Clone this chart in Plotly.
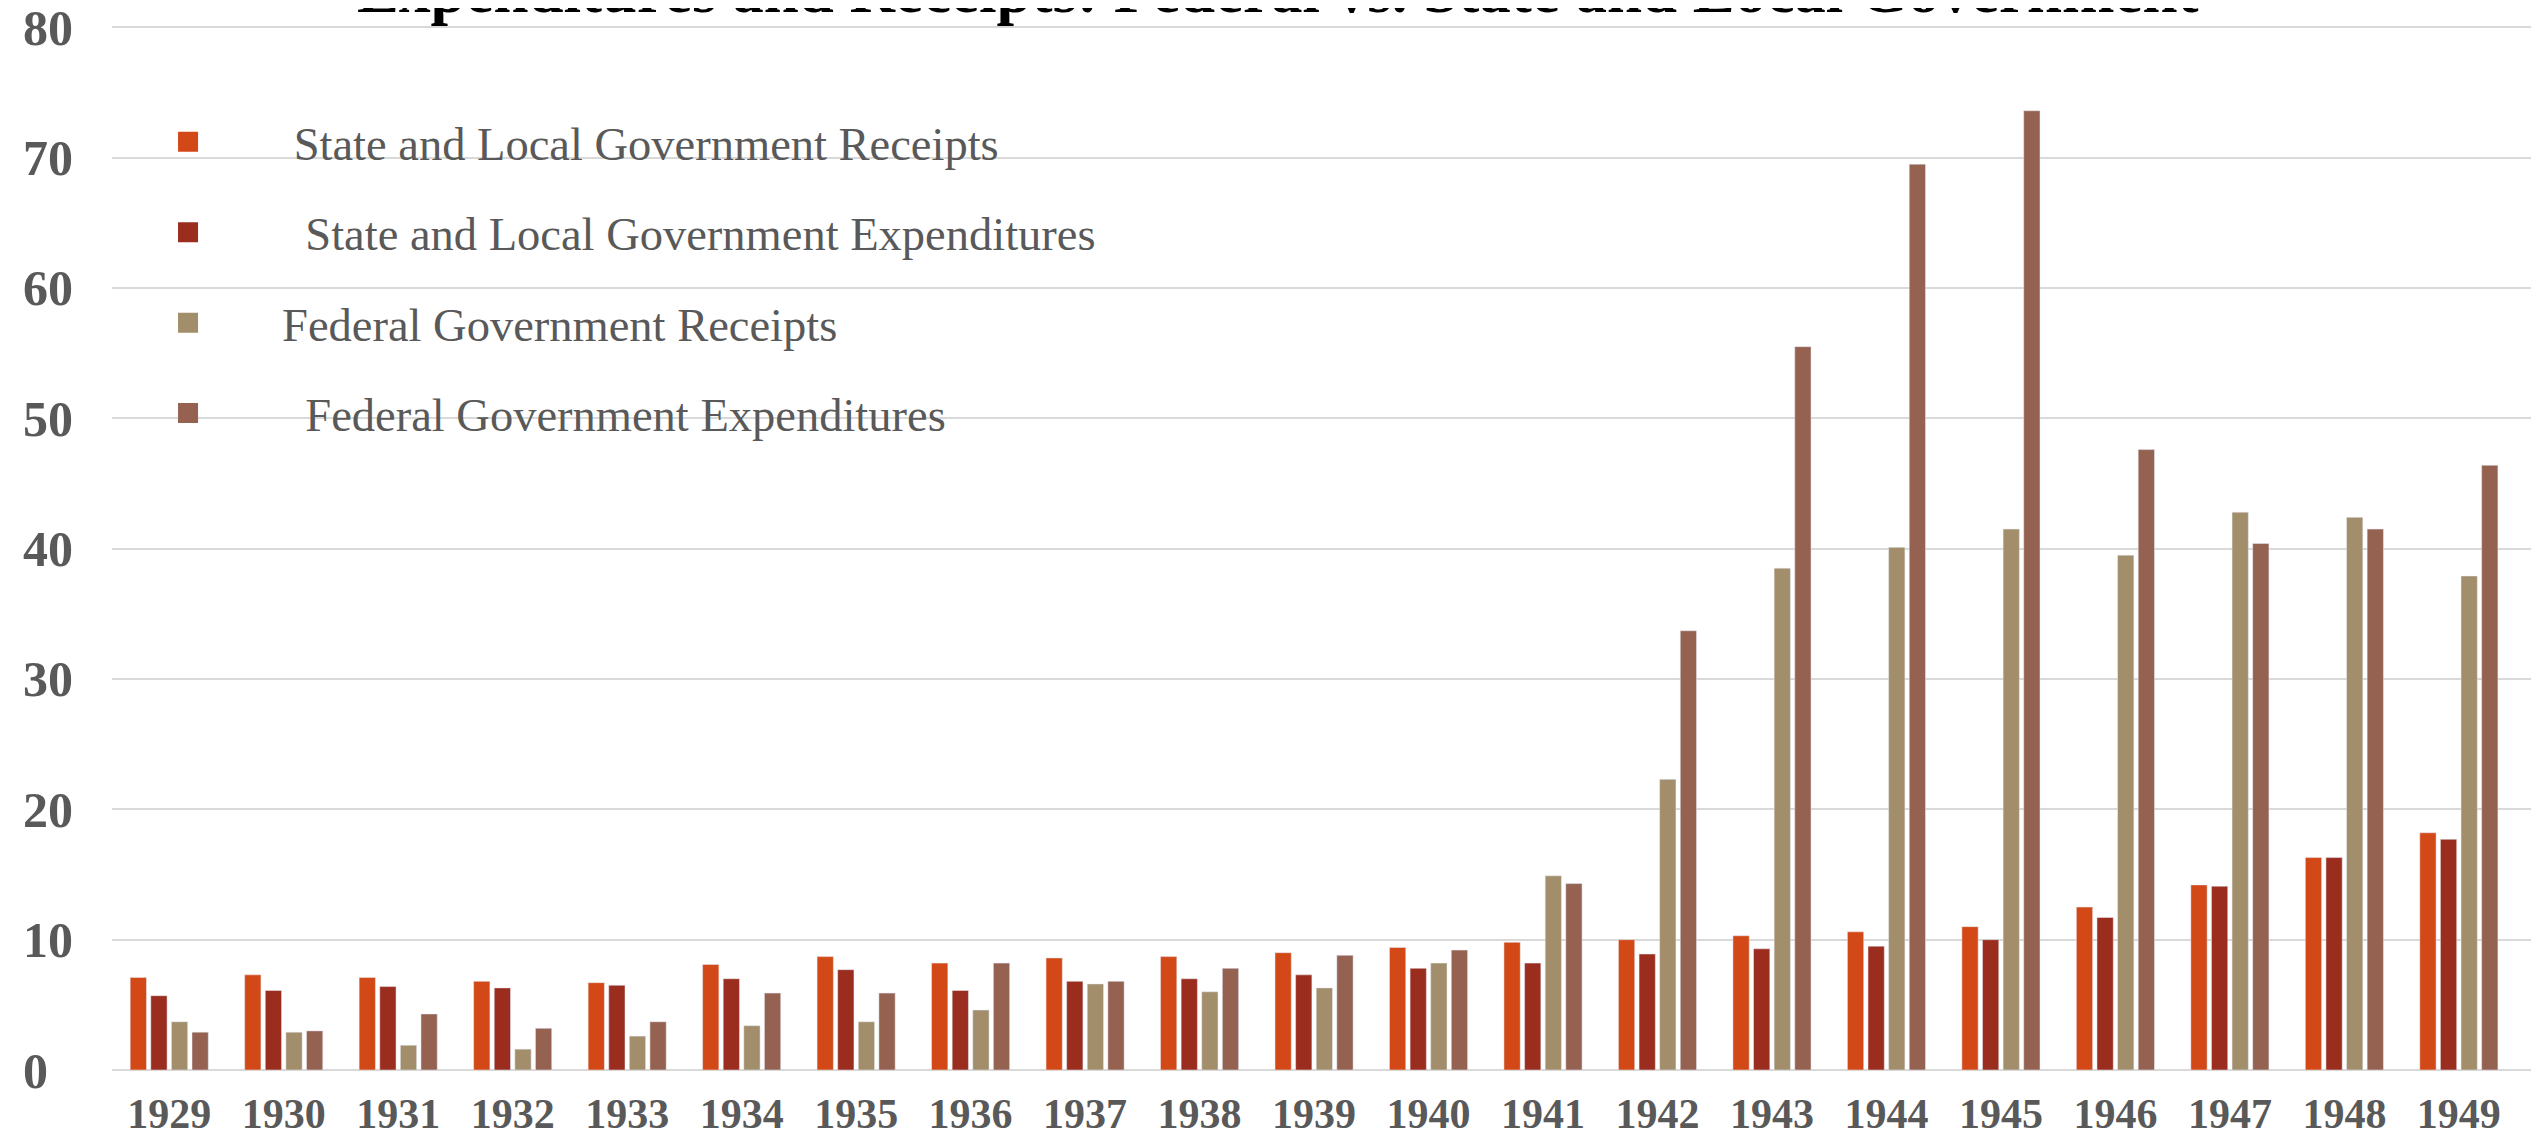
import plotly.graph_objects as go

years = ["1929", "1930", "1931", "1932", "1933", "1934", "1935", "1936", "1937", "1938",
         "1939", "1940", "1941", "1942", "1943", "1944", "1945", "1946", "1947", "1948", "1949"]

state_local_receipts = [7.1, 7.3, 7.1, 6.8, 6.7, 8.1, 8.7, 8.2, 8.6, 8.7,
                        9.0, 9.4, 9.8, 10.0, 10.3, 10.6, 11.0, 12.5, 14.2, 16.3, 18.2]
state_local_expenditures = [5.7, 6.1, 6.4, 6.3, 6.5, 7.0, 7.7, 6.1, 6.8, 7.0,
                            7.3, 7.8, 8.2, 8.9, 9.3, 9.5, 10.0, 11.7, 14.1, 16.3, 17.7]
federal_receipts = [3.7, 2.9, 1.9, 1.6, 2.6, 3.4, 3.7, 4.6, 6.6, 6.0,
                    6.3, 8.2, 14.9, 22.3, 38.5, 40.1, 41.5, 39.5, 42.8, 42.4, 37.9]
federal_expenditures = [2.9, 3.0, 4.3, 3.2, 3.7, 5.9, 5.9, 8.2, 6.8, 7.8,
                        8.8, 9.2, 14.3, 33.7, 55.5, 69.5, 73.6, 47.6, 40.4, 41.5, 46.4]

series_names = ["\u00a0State and Local Government Receipts",
                "\u00a0\u00a0State and Local Government Expenditures",
                "Federal Government Receipts",
                "\u00a0\u00a0Federal Government Expenditures"]
series_colors = ["#D34817", "#9B2D1F", "#A28E6A", "#956251"]
series_values = [state_local_receipts, state_local_expenditures, federal_receipts, federal_expenditures]

y_tickvals = [0, 10, 20, 30, 40, 50, 60, 70, 80]
y_ticktext = ["0\u2007", "10", "20", "30", "40", "50", "60", "70", "80"]

title_text = "Expenditures and Receipts: Federal vs. State and Local Government"

fig = go.Figure()
for i, (name, color, vals) in enumerate(zip(series_names, series_colors, series_values)):
    fig.add_trace(go.Bar(x=years, y=vals, name=name, marker_color=color,
                         legendgroup=f"g{i}", showlegend=False))
# legend entries (larger square keys than the bar legend symbol allows)
for i, (name, color) in enumerate(zip(series_names, series_colors)):
    fig.add_trace(go.Scatter(x=[None], y=[None], mode="markers", name=name,
                             legendgroup=f"g{i}", showlegend=True, hoverinfo="skip",
                             marker=dict(symbol="square", size=16, color=color,
                                         line=dict(color=color, width=4))))

# page body has an 8px margin, so the figure is a bit smaller than the window
W, H = 2531, 1132
ML, MR, MT, MB = 104, 0, 18, 70

fig.update_layout(
    width=W, height=H,
    margin=dict(l=ML, r=MR, t=MT, b=MB, autoexpand=False),
    paper_bgcolor="white", plot_bgcolor="white",
    barmode="group", bargap=0.28, bargroupgap=0.21,
    font=dict(family="Liberation Serif", color="#595959"),
    legend=dict(x=-0.0074, xanchor="left", y=0.9243, yanchor="top",
                font=dict(family="Liberation Serif", size=46.5, color="#595959"),
                itemwidth=178, tracegroupgap=27, bgcolor="rgba(0,0,0,0)",
                traceorder="grouped", itemsizing="trace"),
    showlegend=True,
    annotations=[dict(text="<b>" + title_text + "</b>", x=0.4804, xref="paper",
                      xanchor="center", y=1.0336, yref="paper", yanchor="middle",
                      showarrow=False,
                      font=dict(family="Liberation Serif", size=63, color="#000000"))],
)

fig.update_xaxes(type="category", range=[-0.5, 20.7], showgrid=False, showline=False,
                 zeroline=False, ticks="", ticklabelstandoff=15,
                 tickfont=dict(family="Liberation Serif", size=42, color="#595959", weight="bold"))
fig.update_yaxes(range=[0, 80.1], tickvals=y_tickvals, ticktext=y_ticktext,
                 showgrid=True, gridcolor="#D9D9D9", gridwidth=2,
                 zeroline=True, zerolinecolor="#D9D9D9", zerolinewidth=2,
                 showline=False, ticks="", ticklabelstandoff=38, ticklabeloverflow="allow",
                 tickfont=dict(family="Liberation Serif", size=50, color="#595959", weight="bold"))

fig.write_html("out.html")
